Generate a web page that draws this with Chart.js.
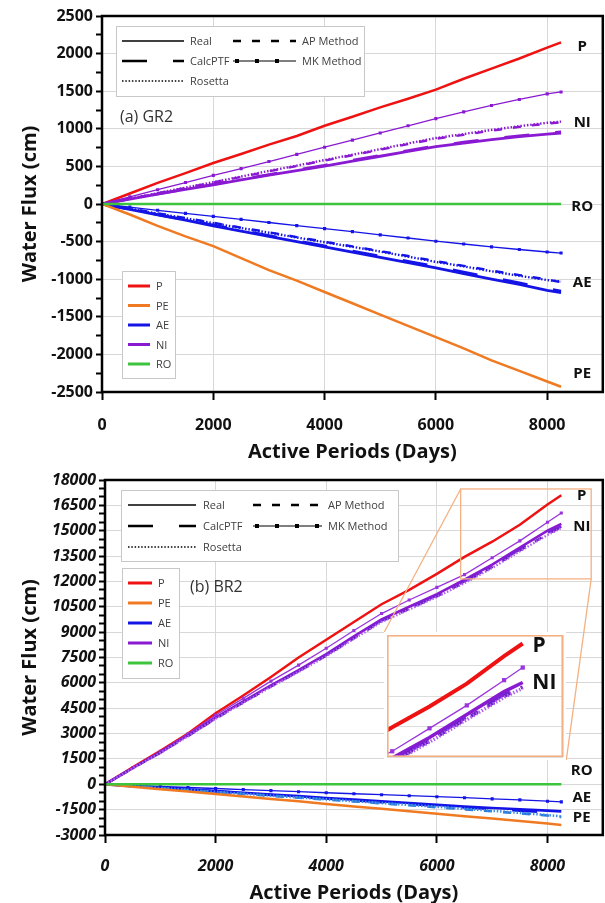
<!DOCTYPE html>
<html>
<head>
<meta charset="utf-8">
<script src="https://cdn.jsdelivr.net/npm/chart.js@4.4.0/dist/chart.umd.min.js"></script>
<style>
  html, body { margin: 0; padding: 0; background: #fff; }
  #wrap { position: relative; width: 605px; height: 903px; }
  #grChart { position: absolute; left: 0; top: 0; }
  #brChart { position: absolute; left: 0; top: 465px; }
  #insetBox { position: absolute; background: #fff; }
  #insetBox canvas { display: block; }
</style>
</head>
<body>
<div id="wrap">
  <canvas id="grChart" width="605" height="465"></canvas>
  <canvas id="brChart" width="605" height="438"></canvas>
  <div id="insetBox"><canvas id="insetChart"></canvas></div>
</div>
<script>
// Active period (days) at which cumulative fluxes are read
const days = [0, 500, 1000, 1500, 2000, 2500, 3000, 3500, 4000, 4500, 5000, 5500, 6000, 6500, 7000, 7500, 8000, 8250];

// (a) GR2 cumulative water flux (cm)
const grP      = [0, 140, 280, 410, 545, 665, 790, 905, 1040, 1160, 1285, 1400, 1520, 1665, 1800, 1935, 2080, 2150];
const grPE     = [0, -140, -290, -430, -560, -720, -880, -1020, -1170, -1320, -1470, -1620, -1770, -1920, -2080, -2220, -2360, -2430];
const grRO     = [0, 0, 0, 0, 0, 0, 0, 0, 0, 0, 0, 0, 0, 0, 0, 0, 0, 0];
const grAEReal = [0, -70, -145, -215, -290, -360, -430, -500, -570, -640, -710, -780, -850, -925, -1000, -1070, -1150, -1180];
const grAECalc = [0, -68, -140, -208, -282, -350, -420, -488, -558, -626, -695, -764, -832, -905, -978, -1048, -1125, -1160];
const grAERos  = [0, -62, -128, -190, -255, -320, -382, -445, -508, -570, -632, -700, -770, -830, -895, -955, -1012, -1030];
const grAEAP   = [0, -60, -124, -186, -250, -314, -376, -440, -502, -564, -626, -692, -760, -822, -886, -946, -1004, -1040];
const grAEMK   = [0, -42, -84, -124, -165, -205, -246, -288, -328, -368, -410, -452, -495, -532, -570, -605, -638, -652];
const grNIReal = [0, 65, 130, 195, 255, 320, 385, 445, 505, 570, 635, 700, 762, 810, 855, 895, 930, 944];
const grNICalc = [0, 68, 134, 200, 262, 328, 392, 452, 515, 580, 645, 710, 772, 822, 868, 905, 945, 960];
const grNIRos  = [0, 72, 145, 218, 290, 365, 440, 510, 585, 655, 730, 805, 877, 930, 985, 1035, 1080, 1095];
const grNIAP   = [0, 70, 142, 214, 286, 360, 434, 505, 578, 648, 722, 796, 868, 920, 975, 1025, 1070, 1085];
const grNIMK   = [0, 95, 190, 285, 380, 470, 565, 660, 755, 850, 945, 1040, 1135, 1225, 1310, 1390, 1465, 1490];

// (b) BR2 cumulative water flux (cm)
const brP      = [0, 1000, 1980, 3000, 4200, 5250, 6350, 7500, 8550, 9600, 10650, 11500, 12450, 13450, 14350, 15350, 16550, 17100];
const brPE     = [0, -145, -290, -430, -580, -720, -870, -1010, -1160, -1310, -1450, -1600, -1750, -1890, -2030, -2170, -2320, -2410];
const brRO     = [0, 0, 0, 0, 0, 0, 0, 0, 0, 0, 0, 0, 0, 0, 0, 0, 0, 0];
const brAEReal = [0, -100, -200, -300, -400, -500, -600, -700, -810, -910, -1010, -1110, -1220, -1310, -1400, -1480, -1560, -1600];
const brAECalc = [0, -105, -210, -315, -420, -525, -630, -735, -845, -950, -1055, -1160, -1270, -1370, -1470, -1560, -1650, -1690];
const brAERos  = [0, -110, -220, -335, -450, -560, -670, -780, -890, -1000, -1110, -1220, -1330, -1450, -1570, -1690, -1820, -1900];
const brAEAP   = [0, -112, -225, -340, -455, -565, -680, -790, -900, -1010, -1125, -1240, -1360, -1480, -1600, -1720, -1850, -1940];
const brAEMK   = [0, -65, -130, -190, -250, -310, -375, -440, -500, -560, -615, -675, -734, -795, -860, -925, -1000, -1040];
const brNIReal = [0, 960, 1900, 2900, 3950, 4900, 5850, 6750, 7700, 8750, 9750, 10500, 11250, 12100, 13000, 14000, 15000, 15400];
const brNICalc = [0, 950, 1880, 2870, 3910, 4860, 5800, 6700, 7640, 8680, 9680, 10420, 11170, 12000, 12900, 13900, 14880, 15250];
const brNIRos  = [0, 940, 1860, 2840, 3880, 4820, 5760, 6650, 7580, 8600, 9600, 10340, 11080, 11900, 12800, 13780, 14750, 15150];
const brNIAP   = [0, 945, 1870, 2850, 3890, 4840, 5780, 6680, 7610, 8640, 9640, 10380, 11120, 11950, 12850, 13830, 14800, 15200];
const brNIMK   = [0, 980, 1950, 2980, 4080, 5080, 6100, 7050, 8050, 9100, 10100, 10900, 11650, 12400, 13400, 14400, 15500, 16050];

// Legend / label text
const fluxNames = ['P', 'PE', 'AE', 'NI', 'RO'];
const methodNames = ['Real', 'CalcPTF', 'Rosetta', 'AP Method', 'MK Method'];

// Styles
const colP = '#ee1212', colPE = '#f07a22', colAE = '#1414e6', colNI = '#8a1ad2', colRO = '#3cc43c';
const fluxColors = [colP, colPE, colAE, colNI, colRO];
const methodDash = [[], [25, 26], [1.5, 1.8], [8, 11], []];
const FONT = "'Open Sans', sans-serif";
Chart.defaults.font.family = FONT;

// Zoomed window (data units of panel b) and where its inset sits
const zoomBox = { x0: 6430, x1: 8790, y0: 12150, y1: 17470 };
const insetSpot = { x0: 5050, x1: 8340, y0: 1440, y1: 9010 };

function series(values, color, m, width, mkRadius) {
    const mk = m === 4;
    return {
        data: values.map((v, i) => ({ x: days[i], y: v })),
        borderColor: color,
        backgroundColor: color,
        borderWidth: mk ? 1.3 : width,
        borderDash: methodDash[m],
        pointStyle: 'rect',
        pointRadius: mk ? (mkRadius || 2.2) : 0,
        pointBorderWidth: 0,
        pointHoverRadius: 0,
        tension: 0
    };
}

function scalesFor(o) {
    const xMajor = c => c.tick && c.tick.value % 2000 === 0;
    return {
        x: {
            type: 'linear', min: 0, max: 9000,
            ticks: {
                stepSize: 1000, autoSkip: false, maxRotation: 0, padding: o.xPad, color: '#111',
                font: { size: 16, weight: 'bold', style: o.tickStyle },
                callback: v => (v % 2000 === 0 ? String(v) : '')
            },
            grid: {
                color: c => (xMajor(c) ? '#d8d8d8' : 'rgba(0,0,0,0)'),
                tickColor: c => (xMajor(c) ? '#000' : 'rgba(0,0,0,0)'),
                tickLength: 8, tickWidth: 2
            },
            border: { display: false },
            title: {
                display: true, text: 'Active Periods (Days)', color: '#111',
                font: { size: 20, weight: 'bold' }, padding: { top: 0, bottom: o.xTitlePad }
            },
            // fixed axis band; the label padding must not squeeze the plot sideways
            afterFit: s => { s.height = o.xHeight; s.paddingLeft = 0; s.paddingRight = 0; }
        },
        y: {
            min: o.yMin, max: o.yMax,
            ticks: {
                stepSize: o.yMinor, autoSkip: false, padding: 3, color: '#111',
                font: { size: 16, weight: 'bold', style: o.tickStyle },
                callback: v => (v % o.yMajor === 0 ? String(v) : '')
            },
            grid: {
                color: c => (c.tick && c.tick.value % o.yMajor === 0 ? '#d8d8d8' : 'rgba(0,0,0,0)'),
                tickColor: '#000', tickLength: 6, tickWidth: 2
            },
            border: { display: false },
            title: {
                display: true, text: 'Water Flux (cm)', color: '#111',
                font: { size: 20, weight: 'bold' }, padding: { top: 18, bottom: 0 }
            },
            afterFit: s => { s.width = o.yWidth; }
        }
    };
}

function drawLegends(ctx, a, o) {
    ctx.textBaseline = 'middle';
    ctx.textAlign = 'left';
    ctx.font = '11px ' + FONT;

    // line style legend
    const s = o.styleBox;
    const sx = a.left + s.left, sy = a.top + s.top;
    ctx.fillStyle = '#fff';
    ctx.fillRect(sx, sy, s.w, s.h);
    ctx.strokeStyle = '#c8c8c8'; ctx.lineWidth = 1; ctx.setLineDash([]);
    ctx.strokeRect(sx + 0.5, sy + 0.5, s.w, s.h);
    methodNames.forEach((name, m) => {
        const col = m < 3 ? 0 : 1, row = m < 3 ? m : m - 3;
        const c = s.cols[col];
        const ly = sy + s.rows[row];
        const x1 = sx + c[0], x2 = sx + c[1];
        ctx.strokeStyle = '#000';
        ctx.lineWidth = m === 0 ? 1.5 : m === 2 ? 1.5 : m === 4 ? 1.2 : 2.5;
        ctx.setLineDash(methodDash[m]);
        ctx.beginPath(); ctx.moveTo(x1, ly); ctx.lineTo(x2, ly); ctx.stroke();
        ctx.setLineDash([]);
        if (m === 4) {
            ctx.fillStyle = '#000';
            for (let px = x1 + 4; px < x2; px += 20) ctx.fillRect(px - 2, ly - 2, 4, 4);
        }
        ctx.fillStyle = '#404040';
        ctx.fillText(name, sx + c[2], ly + 1);
    });

    // flux colour legend
    const f = o.colorBox;
    const fx = a.left + f.left, fy = a.top + f.top;
    ctx.fillStyle = '#fff';
    ctx.fillRect(fx, fy, f.w, f.h);
    ctx.strokeStyle = '#c8c8c8'; ctx.lineWidth = 1;
    ctx.strokeRect(fx + 0.5, fy + 0.5, f.w, f.h);
    fluxNames.forEach((name, i) => {
        const ly = fy + f.first + i * f.gap;
        ctx.strokeStyle = fluxColors[i]; ctx.lineWidth = 3;
        ctx.beginPath(); ctx.moveTo(fx + 6, ly); ctx.lineTo(fx + f.lineEnd, ly); ctx.stroke();
        ctx.fillStyle = '#404040';
        ctx.fillText(name, fx + f.lineEnd + 6, ly + 1);
    });

    // panel tag
    ctx.font = '16px ' + FONT;
    ctx.fillStyle = '#333';
    ctx.fillText(o.tag, a.left + o.tagPos[0], a.top + o.tagPos[1]);
}

function panelDecor(o) {
    return {
        id: 'panelDecor',
        afterDatasetsDraw(chart) {
            const { ctx, chartArea: a, scales: { x, y } } = chart;
            ctx.save();
            if (o.zoom) {
                const zx0 = x.getPixelForValue(zoomBox.x0), zx1 = x.getPixelForValue(zoomBox.x1);
                const zy0 = y.getPixelForValue(zoomBox.y1), zy1 = y.getPixelForValue(zoomBox.y0);
                const ix0 = x.getPixelForValue(insetSpot.x0), ix1 = x.getPixelForValue(insetSpot.x1);
                const iy0 = y.getPixelForValue(insetSpot.y1), iy1 = y.getPixelForValue(insetSpot.y0);
                ctx.strokeStyle = '#f4b183'; ctx.lineWidth = 1.3;
                ctx.strokeRect(zx0, zy0, zx1 - zx0, zy1 - zy0);
                ctx.beginPath();
                ctx.moveTo(zx0, zy0); ctx.lineTo(ix0, iy0);
                ctx.moveTo(zx1, zy1); ctx.lineTo(ix1, iy1);
                ctx.stroke();
            }
            ctx.font = 'bold 15px ' + FONT;
            ctx.fillStyle = '#111';
            ctx.textAlign = 'center';
            ctx.textBaseline = 'middle';
            o.endLabels.forEach((t, i) => {
                ctx.fillText(t, x.getPixelForValue(o.endLabelX), y.getPixelForValue(o.endLabelY[i]));
            });
            ctx.strokeStyle = '#000'; ctx.lineWidth = 2.5;
            ctx.strokeRect(a.left, a.top, a.right - a.left, a.bottom - a.top);
            drawLegends(ctx, a, o);
            ctx.restore();
        }
    };
}

// (a) GR2
const grSets = [
    series(grRO, colRO, 0, 2.5),
    series(grPE, colPE, 0, 2.5),
    series(grAEMK, colAE, 4),
    series(grAERos, colAE, 2, 2.4),
    series(grAEAP, colAE, 3, 2.4),
    series(grAECalc, colAE, 1, 2.8),
    series(grAEReal, colAE, 0, 2.8),
    series(grNIMK, colNI, 4),
    series(grNIRos, colNI, 2, 2.4),
    series(grNIAP, colNI, 3, 2.4),
    series(grNICalc, colNI, 1, 2.8),
    series(grNIReal, colNI, 0, 2.8),
    series(grP, colP, 0, 2.5)
];

new Chart(document.getElementById('grChart'), {
    type: 'line',
    data: { datasets: grSets },
    options: {
        responsive: false,
        animation: false,
        layout: { padding: { top: 16, right: 2, left: 0, bottom: 0 } },
        plugins: { legend: { display: false }, tooltip: { enabled: false } },
        scales: scalesFor({
            yMin: -2500, yMax: 2500, yMinor: 250, yMajor: 500,
            xPad: 16, xTitlePad: 1, xHeight: 73, yWidth: 102, tickStyle: 'normal'
        })
    },
    plugins: [panelDecor({
        tag: '(a) GR2', tagPos: [18, 101],
        endLabels: ['P', 'NI', 'RO', 'AE', 'PE'], endLabelX: 8630,
        endLabelY: [2090, 1075, -40, -1050, -2260],
        styleBox: { left: 14, top: 10, w: 248, h: 70, rows: [15, 35, 55], cols: [[6, 68, 74], [117, 180, 186]] },
        colorBox: { left: 20, top: 255, w: 53, h: 107, first: 15, gap: 19.5, lineEnd: 28 }
    })]
});

// (b) BR2
const colAELight = '#3a8ee8', colAELight2 = '#2a78d8', colNILight = '#b060f0', colNIMK = '#9a35dd';
const brSets = [
    series(brRO, colRO, 0, 2.5),
    series(brPE, colPE, 0, 2.5),
    series(brAERos, colAELight, 2, 2.6),
    series(brAEAP, colAELight2, 3, 2.6),
    series(brAECalc, colAE, 1, 2.6),
    series(brAEReal, colAE, 0, 2.6),
    series(brAEMK, colAE, 4),
    series(brNIRos, colNILight, 2, 2.4),
    series(brNIAP, '#6a1fc0', 3, 2.4),
    series(brNICalc, '#7a22d6', 1, 2.6),
    series(brNIReal, colNI, 0, 2.6),
    series(brNIMK, colNIMK, 4),
    series(brP, colP, 0, 2.5)
];

const brChart = new Chart(document.getElementById('brChart'), {
    type: 'line',
    data: { datasets: brSets },
    options: {
        responsive: false,
        animation: false,
        layout: { padding: { top: 15, right: 2, left: 0, bottom: 0 } },
        plugins: { legend: { display: false }, tooltip: { enabled: false } },
        scales: scalesFor({
            yMin: -3000, yMax: 18000, yMinor: 500, yMajor: 1500,
            xPad: 14, xTitlePad: -2, xHeight: 68, yWidth: 105, tickStyle: 'italic'
        })
    },
    plugins: [panelDecor({
        zoom: true,
        tag: '(b) BR2', tagPos: [85, 107],
        endLabels: ['P', 'NI', 'RO', 'AE', 'PE'], endLabelX: 8620,
        endLabelY: [17050, 15220, 800, -810, -2000],
        styleBox: { left: 16, top: 10, w: 277, h: 71, rows: [15, 36, 57], cols: [[7, 75, 82], [132, 201, 207]] },
        colorBox: { left: 17, top: 88, w: 57, h: 110, first: 15, gap: 20, lineEnd: 30 }
    })]
});

// Inset: zoom of P and NI near the end of panel (b)
const bx = brChart.scales.x, by = brChart.scales.y;
const insL = Math.round(bx.getPixelForValue(insetSpot.x0));
const insR = Math.round(bx.getPixelForValue(insetSpot.x1));
const insT = Math.round(by.getPixelForValue(insetSpot.y1));
const insB = Math.round(by.getPixelForValue(insetSpot.y0));
const insetBox = document.getElementById('insetBox');
insetBox.style.left = insL + 'px';
insetBox.style.top = (465 + insT) + 'px';
const insetCanvas = document.getElementById('insetChart');
insetCanvas.width = insR - insL;
insetCanvas.height = insB - insT;

const insetSets = [
    series(brNIRos, colNILight, 2, 3.5),
    series(brNIAP, '#6a1fc0', 3, 3.5),
    series(brNICalc, '#7a22d6', 1, 3.5),
    series(brNIReal, colNI, 0, 3.5),
    series(brNIMK, colNIMK, 4, 0, 3),
    series(brP, colP, 0, 4)
];

new Chart(insetCanvas, {
    type: 'line',
    data: { datasets: insetSets },
    options: {
        responsive: false,
        animation: false,
        layout: { padding: 0 },
        plugins: { legend: { display: false }, tooltip: { enabled: false } },
        scales: {
            x: {
                type: 'linear', min: zoomBox.x0, max: zoomBox.x1,
                ticks: { display: false, stepSize: 2000 },
                grid: { color: '#dcdcdc', drawTicks: false },
                border: { display: false },
                afterFit: s => { s.height = 0; }
            },
            y: {
                min: zoomBox.y0, max: zoomBox.y1,
                ticks: { display: false, stepSize: 1500 },
                grid: { color: '#dcdcdc', drawTicks: false },
                border: { display: false },
                afterFit: s => { s.width = 0; }
            }
        }
    },
    plugins: [{
        id: 'insetDecor',
        afterDatasetsDraw(chart) {
            const { ctx, chartArea: a, scales: { x, y } } = chart;
            ctx.save();
            ctx.font = 'bold 21px ' + FONT;
            ctx.fillStyle = '#111';
            ctx.textAlign = 'center';
            ctx.textBaseline = 'middle';
            ctx.fillText('P', x.getPixelForValue(8470), y.getPixelForValue(17010));
            ctx.fillText('NI', x.getPixelForValue(8540), y.getPixelForValue(15390));
            ctx.strokeStyle = '#f4b183'; ctx.lineWidth = 1.6;
            ctx.strokeRect(a.left + 0.8, a.top + 0.8, a.right - a.left - 1.6, a.bottom - a.top - 1.6);
            ctx.restore();
        }
    }]
});
</script>
</body>
</html>
